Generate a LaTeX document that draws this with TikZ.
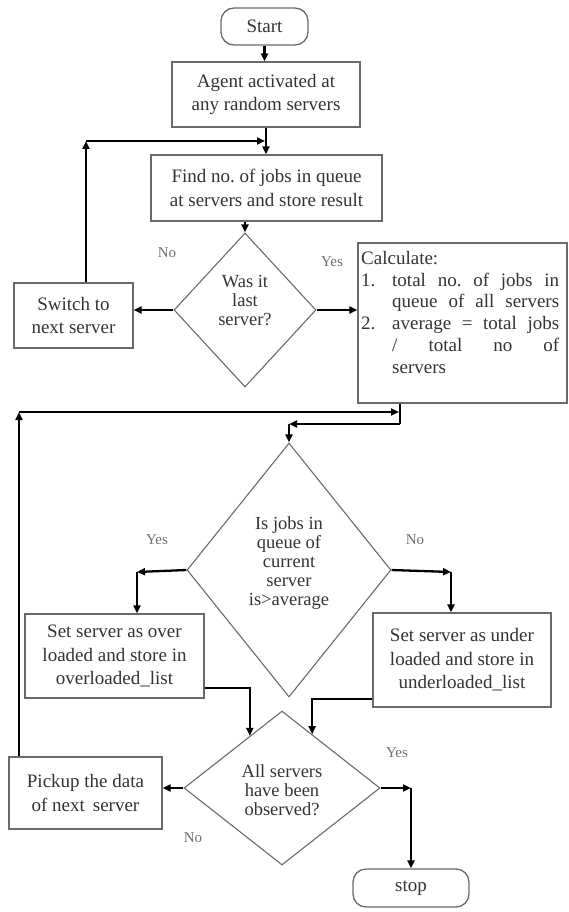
\documentclass[tikz,border=0pt]{standalone}
\usepackage{fontspec}
\setmainfont{Liberation Serif}
\usetikzlibrary{shapes.geometric,arrows.meta,calc}
\frenchspacing
\definecolor{boxgray}{HTML}{6A6A6A}
\definecolor{txtc}{HTML}{333333}
\definecolor{lblc}{HTML}{707070}
\newcommand{\boxfont}{\fontsize{19pt}{23.5pt}\selectfont}
\newcommand{\diafont}{\fontsize{18.5pt}{19pt}\selectfont}
\newcommand{\calcfont}{\fontsize{19pt}{21.8pt}\selectfont}
\newcommand{\lblfont}{\fontsize{15pt}{17pt}\selectfont}
\tikzset{
  pbox/.style={draw=boxgray, line width=1.3pt, fill=white, inner sep=0pt, align=center, font=\boxfont, text=txtc},
  term/.style={pbox, rounded corners=13pt},
  dia/.style={draw=boxgray, line width=1.1pt, diamond, inner sep=0pt},
  dtext/.style={align=center, font=\diafont, text=txtc, inner sep=0pt},
  lbl/.style={font=\lblfont, text=lblc, inner sep=0pt},
  conn/.style={line width=2.3pt, black},
  arr/.style={conn, -{Triangle[length=8pt,width=7pt]}}
}
\begin{document}
\begin{tikzpicture}[x=1pt,y=-1pt]
\useasboundingbox (0,0) rectangle (568,912);
% nodes
\node[term, minimum width=87pt, minimum height=37pt] (start) at (264.5,26.5) {Start};
\node[pbox, minimum width=188pt, minimum height=65pt] (agent) at (266,94.5) {Agent activated at\\any random servers};
\node[pbox, minimum width=231pt, minimum height=66pt] (find) at (266.5,188) {Find no. of jobs in queue\\at servers and store result};
\node[dia, minimum width=142pt, minimum height=154pt] (d1) at (245,310) {};
\node[dtext] (d1t) at (245,301) {Was it\\last\\server?};
\node[pbox, minimum width=119pt, minimum height=65pt] (switch) at (73.5,315.5) {Switch to\\next server};
\node[pbox, minimum width=209pt, minimum height=160pt] (calc) at (462.5,323) {};
\node[anchor=north west, inner sep=0pt, align=left, font=\calcfont, text=txtc] (calct) at (361,251) {Calculate:\\
\makebox[31pt][l]{1.}\makebox[167pt][s]{total no. of jobs in}\\
\hspace*{31pt}\makebox[167pt][s]{queue of all servers}\\
\makebox[31pt][l]{2.}\makebox[167pt][s]{average = total jobs}\\
\hspace*{31pt}\makebox[167pt][s]{/ total no of}\\
\hspace*{31pt}servers};
\node[dia, minimum width=204pt, minimum height=254pt] (d2) at (289,570) {};
\node[dtext] (d2t) at (289,563) {Is jobs in\\queue of\\current\\server\\is>average};
\node[pbox, minimum width=179pt, minimum height=84pt] (over) at (114.5,656) {Set server as over\\loaded and store in\\overloaded\_list};
\node[pbox, minimum width=178pt, minimum height=94pt] (under) at (462,660) {Set server as under\\loaded and store in\\underloaded\_list};
\node[dia, minimum width=196pt, minimum height=154pt] (d3) at (282,788) {};
\node[dtext] (d3t) at (282,790) {All servers\\have been\\observed?};
\node[pbox, minimum width=153pt, minimum height=72pt] (pickup) at (85.5,793) {Pickup the data\\of next\, server};
\node[term, minimum width=116pt, minimum height=38pt] (stop) at (411,888) {stop};
% labels
\node[lbl] (l1) at (167,253) {No};
\node[lbl] (l2) at (332,262) {Yes};
\node[lbl] (l3) at (157,540) {Yes};
\node[lbl] (l4) at (415,540) {No};
\node[lbl] (l5) at (397,753) {Yes};
\node[lbl] (l6) at (193,838) {No};
% coordinates
\coordinate (c1) at (86,141);
\coordinate (c2) at (19,412);
\coordinate (c4) at (400,424);
\coordinate (c5) at (d2.north |- c4);
\coordinate (ya) at (137,572);
\coordinate (na) at (451,572);
\coordinate (o1) at ($(d3.west)!0.673!(d3.north)$);
\coordinate (u1) at ($(d3.north)!0.306!(d3.east)$);
\coordinate (s1) at (411,788);
% connectors
\draw[arr] (start.south) -- (start.south |- agent.north);
\draw[arr] (agent.south) -- (agent.south |- find.north);
\draw[arr] (d1.north |- find.south) -- (d1.north);
\draw[arr] (d1.west) -- (d1.west -| switch.east);
\draw[arr] (d1.east) -- (d1.east -| calc.west);
\draw[arr] (c1 |- switch.north) -- (c1);
\draw[arr, shorten >=1pt] (c1) -- (c1 -| agent.south);
\draw[conn] (c4 |- calc.south) -- (c4);
\draw[arr] (c4) -- (c5);
\draw[arr] (c5) -- (d2.north);
\draw[arr] (c2 |- pickup.north) -- (c2);
\draw[arr, shorten >=1pt] (c2) -- (c2 -| c4);
\draw[arr] (d2.west) -- (ya);
\draw[arr] (ya) -- (ya |- over.north);
\draw[arr] (d2.east) -- (na);
\draw[arr] (na) -- (na |- under.north);
\draw[arr] ([yshift=-32pt]over.east) -| (o1);
\draw[arr] ([yshift=-39pt]under.west) -| (u1);
\draw[arr] (d3.west) -- (d3.west -| pickup.east);
\draw[arr] (d3.east) -- (s1);
\draw[arr] (s1) -- (s1 |- stop.north);
\end{tikzpicture}
\end{document}
